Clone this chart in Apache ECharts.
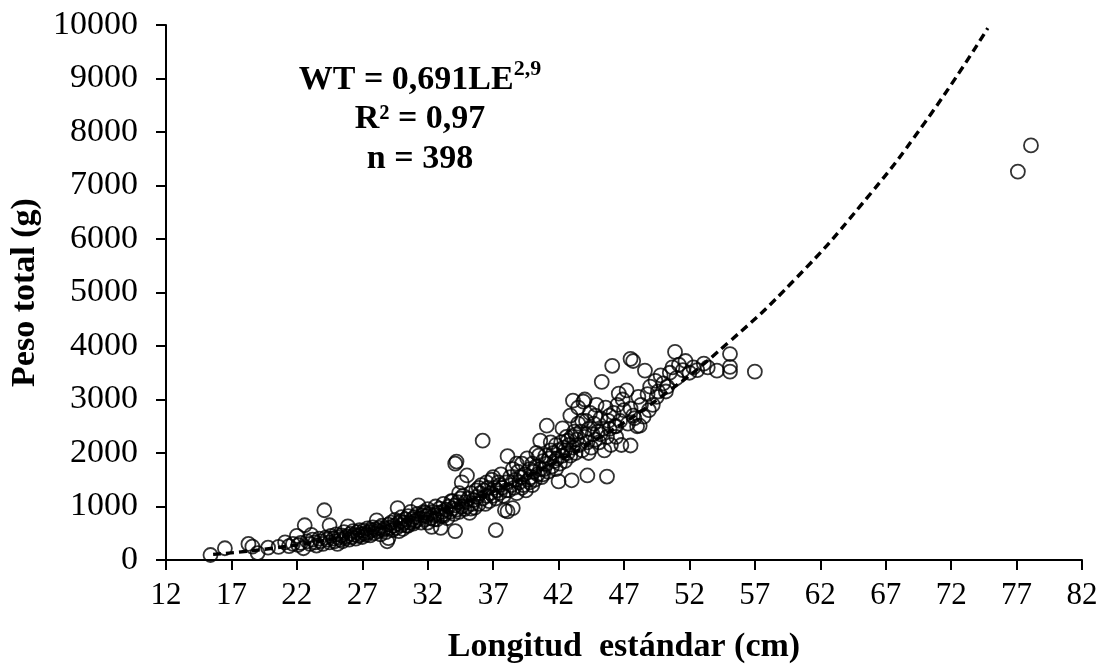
<!DOCTYPE html>
<html>
<head>
<meta charset="utf-8">
<script src="https://cdn.jsdelivr.net/npm/echarts@6/dist/echarts.min.js"></script>
<style>html,body{margin:0;padding:0;background:#fff}#c{width:1107px;height:669px}</style>
</head>
<body>
<div id="c"></div>
<script>
// Axis ticks
const xTicks = [12, 17, 22, 27, 32, 37, 42, 47, 52, 57, 62, 67, 72, 77, 82];
const yTicks = [0, 1000, 2000, 3000, 4000, 5000, 6000, 7000, 8000, 9000, 10000];

// Observed points [Longitud estándar (cm), Peso total (g)]
const observations = [
[15.4,93],[16.5,220],[18.3,300],[18.6,250],[19.0,130],[19.8,230],[20.6,245],[21.1,330],
[21.4,260],[21.7,300],[22.0,450],[22.1,280],[22.3,320],[22.5,220],[22.6,650],[22.8,350],[23.0,300],[23.1,470],
[23.2,380],[23.4,330],[23.5,270],[23.7,400],[23.8,350],[24.0,300],[24.1,930],[24.2,420],[24.3,380],[24.5,650],
[24.5,330],[24.6,450],[24.8,400],[24.9,350],[25.0,480],[25.1,300],[25.2,420],[25.3,380],[25.4,460],[25.5,350],
[25.6,520],[25.7,410],[25.8,440],[25.9,630],[26.0,380],
[26.1,490],[26.2,430],[26.3,540],[26.4,470],[26.5,400],[26.6,520],[26.7,450],[26.8,560],[26.9,480],[27.0,430],
[27.1,550],[27.2,500],[27.3,470],[27.4,590],[27.5,520],[27.6,460],[27.7,560],[27.8,610],[27.9,500],[28.0,570],
[28.1,740],[28.2,540],[28.3,600],[28.4,480],[28.5,640],[28.6,560],[28.7,590],[28.8,520],[28.9,350],[29.0,410],
[29.0,660],[29.1,600],[29.2,700],[29.3,560],[29.4,640],[29.5,750],[29.6,600],[29.7,970],[29.7,680],[29.8,540],
[29.9,720],[30.0,650],[30.0,800],[30.1,580],
[30.2,700],[30.3,760],[30.4,640],[30.5,820],[30.6,700],[30.7,900],[30.8,760],[30.9,680],[31.0,800],[31.1,740],
[31.2,860],[31.3,1020],[31.4,780],[31.5,700],[31.6,840],[31.7,900],[31.8,760],[31.9,820],[32.0,700],[32.0,950],
[32.1,860],[32.2,780],[32.3,620],[32.4,900],[32.5,840],[32.6,1000],[32.7,760],[32.8,880],[32.9,960],[33.0,820],
[33.0,600],[33.1,900],[33.2,1050],[33.3,860],[33.4,940],[33.5,780],[33.6,1000],[33.7,900],[33.8,1100],[33.9,960],
[34.0,860],[34.1,540],[34.1,1020],[34.2,1840],[34.1,1800],[34.2,940],[34.3,1080],[34.4,900],[34.5,1150],[34.6,1000],
[34.7,1200],[34.8,950],[34.9,1080],[35.0,1580],[34.6,1450],[35.0,1000],[35.1,1150],[35.2,880],[35.3,1250],[35.4,1050],
[35.5,1120],[35.6,980],[35.7,1300],[35.8,1180],
[35.9,1050],[36.0,1250],[36.1,1400],[36.2,2230],[36.2,1150],[36.3,1300],[36.4,1050],[36.5,1200],[36.6,1350],[36.7,1100],
[36.8,1250],[36.9,1500],[37.0,1200],[37.1,1350],[37.2,560],[37.2,1150],[37.3,1300],[37.4,1450],[37.5,1250],[37.6,1600],
[37.7,1350],[37.8,1200],[37.9,930],[38.0,1450],[38.1,1940],[38.1,910],[38.2,1300],[38.3,1550],[38.4,1400],[38.5,970],
[38.5,1700],[38.6,1350],[38.7,1500],[38.8,1250],[38.9,1650],[39.0,1450],[39.1,1550],[39.2,1800],[39.3,1400],[39.4,1600],
[39.5,1300],[39.6,1900],[39.7,1500],[39.8,1700],[39.9,1550],[40.0,1400],[40.0,1800],[40.1,1650],[40.2,1500],[40.3,1750],
[40.4,1600],[40.5,1950],[40.6,2230],[40.6,1700],[40.7,1550],[40.8,1850],[40.9,1700],[41.0,1950],[41.1,2510],[41.1,1800],
[41.2,1650],[41.3,1900],[41.4,2050],[41.5,1750],[41.6,2000],[41.7,1850],[41.8,2150],[41.9,1900],[42.0,1470],[42.0,2050],
[42.1,1800],[42.2,2200],[42.3,2460],[42.3,1950],[42.4,2100],[42.5,1850],[42.6,2300],[42.7,2230],[42.7,2000],[42.8,2150],
[42.9,1950],[43.0,1490],[43.0,2300],[43.1,2980],[43.1,2100],[43.2,2400],[43.3,2000],[43.4,2250],[43.5,2550],[43.6,2150],
[43.7,2400],[43.8,2050],[43.9,2960],[44.0,2300],[44.1,2600],[44.2,1580],[44.2,2200],[44.3,2450],[44.4,2750],[44.5,2100],
[44.6,2350],[44.7,2550],[44.8,2250],[44.9,2900],[45.0,2400],
[45.1,2200],[45.2,2650],[45.3,3330],[45.4,2450],[45.5,2050],[45.6,2850],[45.7,1560],[45.7,2300],[45.8,2600],[45.9,2450],
[46.0,2150],[46.1,3630],[46.2,2750],[46.3,2500],[46.4,2300],[46.5,2900],[46.6,3110],[46.7,2600],[46.8,2150],[47.0,2800],
[47.2,3170],[47.3,2550],[47.5,3760],[47.5,2140],[47.5,2830],[47.7,3720],[47.8,2650],[48.0,2500],[48.1,3050],[48.2,2510],
[48.3,2900],[48.5,2680],[48.6,3540],[48.8,3100],[49.0,3240],[49.2,2900],[49.4,3350],[49.6,3150],[49.8,3450],[50.0,3300],
[50.2,3150],[50.3,3240],[50.5,3500],[50.7,3600],[50.9,3890],
[51.0,3400],[51.2,3650],[51.5,3550],[51.7,3720],[52.0,3500],[52.3,3600],[52.6,3550],[53.1,3670],[53.4,3600],[54.1,3540],
[55.1,3850],[55.1,3610],[55.1,3520],[57.0,3520],
[30.5,640],[31.0,720],[31.8,880],[32.5,760],[33.2,820],[33.9,1100],[34.4,1250],[35.3,960],[35.9,1350],[36.5,1450],
[37.0,1550],[37.5,1400],[38.0,1300],[38.8,1800],[39.2,1350],[39.8,1450],[40.3,2000],[40.8,1600],[41.4,2200],[41.8,1700],
[42.5,2050],[43.3,2350],[43.8,2600],[44.3,2000],[44.8,2700],[45.2,2350],[45.9,2700],[46.4,2500],[46.9,3000],[47.7,2700],
[48.9,2800],[49.5,3050],[44.0,3000],[43.5,2850],[42.9,2700],
[77.1,7260],[78.1,7750]
];

// Fitted curve
const fitLength = [15.6, 20, 25, 30, 35, 40, 45, 50, 55, 60, 65, 70, 74.8];
const fitWeight = [105, 215, 410, 700, 1095, 1615, 2270, 3080, 4070, 5230, 6600, 8180, 9940];

const FONT = "'Liberation Serif', 'Times New Roman', serif";

const chart = echarts.init(document.getElementById('c'), null, {renderer: 'canvas'});
chart.setOption({
  animation: false,
  backgroundColor: '#fff',
  grid: {left: 166, right: 25, top: 25, bottom: 107, containLabel: false},
  xAxis: {
    type: 'value',
    min: xTicks[0], max: xTicks[xTicks.length - 1], interval: xTicks[1] - xTicks[0],
    name: 'Longitud  estándar (cm)',
    nameLocation: 'middle', nameGap: 70,
    nameTextStyle: {fontFamily: FONT, fontWeight: 'bold', fontSize: 34, color: '#000'},
    axisLine: {show: true, onZero: false, lineStyle: {color: '#000', width: 2}},
    axisTick: {show: true, inside: false, length: 10, lineStyle: {color: '#000', width: 2}},
    axisLabel: {fontFamily: FONT, fontSize: 31, color: '#000', margin: 20, formatter: v => String(v)},
    splitLine: {show: false}
  },
  yAxis: {
    type: 'value',
    min: yTicks[0], max: yTicks[yTicks.length - 1], interval: yTicks[1] - yTicks[0],
    name: 'Peso total (g)',
    nameLocation: 'middle', nameGap: 120, nameRotate: 90,
    nameTextStyle: {fontFamily: FONT, fontWeight: 'bold', fontSize: 34, color: '#000'},
    axisLine: {show: true, lineStyle: {color: '#000', width: 2}},
    axisTick: {show: true, inside: false, length: 10, lineStyle: {color: '#000', width: 2}},
    axisLabel: {fontFamily: FONT, fontSize: 34, color: '#000', margin: 28, formatter: v => String(v)},
    splitLine: {show: false}
  },
  series: [
    {
      type: 'line',
      data: fitLength.map((x, i) => [x, fitWeight[i]]),
      smooth: true,
      symbol: 'none',
      lineStyle: {color: '#000', width: 3.4, type: [8, 5]},
      z: 1,
      silent: true
    },
    {
      type: 'scatter',
      data: observations,
      symbol: 'circle',
      symbolSize: 14,
      itemStyle: {color: 'rgba(0,0,0,0)', borderColor: '#000', borderWidth: 1.8},
      z: 2
    }
  ],
  graphic: [
    {
      type: 'text', x: 420, y: 80,
      style: {
        text: '{a|WT = 0,691LE}{s|2,9}',
        align: 'center', verticalAlign: 'middle',
        textAlign: 'center', textVerticalAlign: 'middle',
        rich: {
          a: {fontFamily: FONT, fontWeight: 'bold', fontSize: 34, fill: '#000', color: '#000'},
          s: {fontFamily: FONT, fontWeight: 'bold', fontSize: 22, fill: '#000', color: '#000', padding: [0, 0, 22, 0]}
        }
      }
    },
    {
      type: 'text', x: 420, y: 119,
      style: {
        text: 'R² = 0,97', align: 'center', verticalAlign: 'middle',
        textAlign: 'center', textVerticalAlign: 'middle',
        font: "bold 34px " + FONT, fill: '#000'
      }
    },
    {
      type: 'text', x: 420, y: 159,
      style: {
        text: 'n = 398', align: 'center', verticalAlign: 'middle',
        textAlign: 'center', textVerticalAlign: 'middle',
        font: "bold 34px " + FONT, fill: '#000'
      }
    }
  ]
});
</script>
</body>
</html>
